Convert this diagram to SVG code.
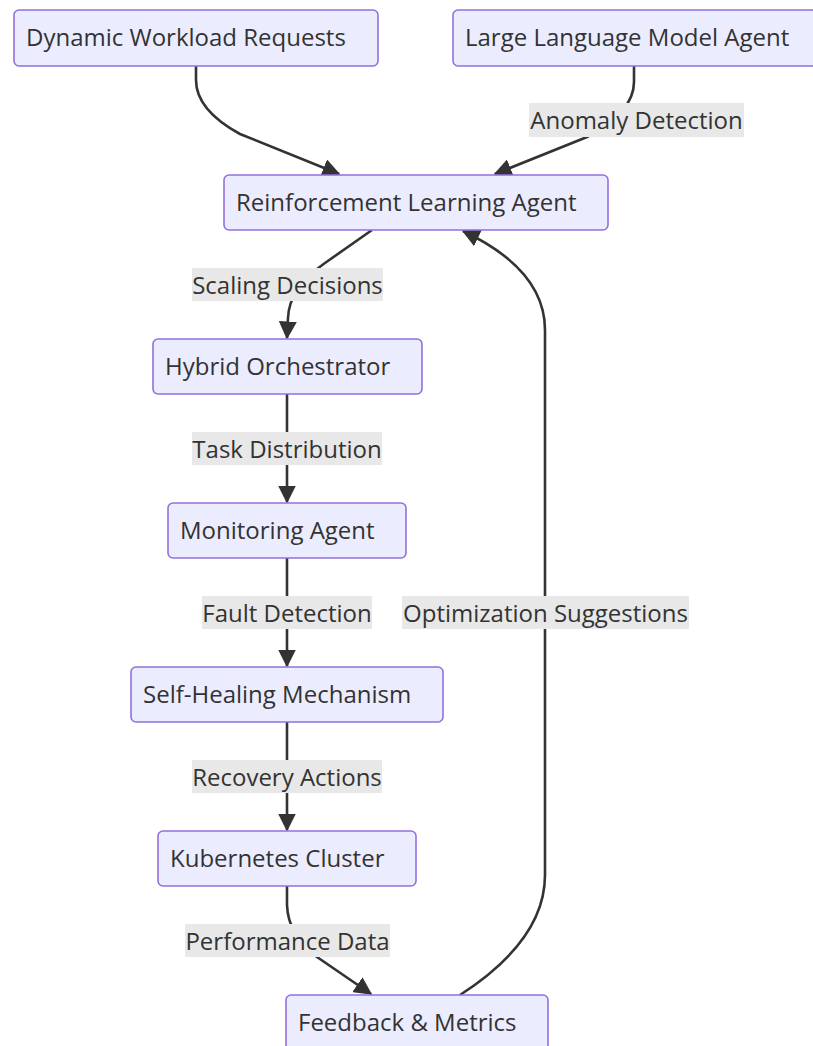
<svg xmlns="http://www.w3.org/2000/svg" width="813" height="1046" viewBox="0 0 813 1046">
<defs>
<style>
.node rect{fill:#ECECFF;stroke:#9370DB;stroke-width:1.6}
.node text{font-family:"Open Sans","DejaVu Sans",sans-serif;font-size:24px;fill:#333}
.edge{fill:none;stroke:#333;stroke-width:2.6}
.lbl rect{fill:#e8e8e8}
.lbl text{font-family:"Open Sans","DejaVu Sans",sans-serif;font-size:24px;fill:#333;text-anchor:middle}
</style>
<marker id="arr" viewBox="0 0 12 12" refX="11" refY="6" markerWidth="18" markerHeight="18" markerUnits="userSpaceOnUse" orient="auto">
<path d="M0,0 L12,6 L0,12 z" fill="#333"/>
</marker>
</defs>
<rect width="813" height="1046" fill="#fff"/>
<g id="connectors">
<path class="edge" d="M196,66 L196,80 Q196,110 240,134 L339,174" marker-end="url(#arr)"/>
<path class="edge" d="M634,66 L634,82 Q634,112 587,137 L495,174" marker-end="url(#arr)"/>
<path class="edge" d="M372,230 L325,263 Q289,288 288,318 L287,338" marker-end="url(#arr)"/>
<path class="edge" d="M287,394 L287,502" marker-end="url(#arr)"/>
<path class="edge" d="M287,558 L287,666" marker-end="url(#arr)"/>
<path class="edge" d="M287,722 L287,830" marker-end="url(#arr)"/>
<path class="edge" d="M287,886 L287,905 Q288,935 317,957 L371,994" marker-end="url(#arr)"/>
<path class="edge" d="M460,995 Q545,940 545,875 L545,330 Q545,270 463,231" marker-end="url(#arr)"/>
<g class="lbl">
<rect x="529" y="103" width="215" height="34"/><text x="636.5" y="129">Anomaly Detection</text>
<rect x="192" y="268" width="191" height="33"/><text x="287.5" y="294">Scaling Decisions</text>
<rect x="192" y="432" width="190" height="33"/><text x="287" y="458">Task Distribution</text>
<rect x="202" y="596" width="170" height="33"/><text x="287" y="622">Fault Detection</text>
<rect x="402" y="596" width="287" height="33"/><text x="545.5" y="622">Optimization Suggestions</text>
<rect x="192" y="760" width="190" height="33"/><text x="287" y="786">Recovery Actions</text>
<rect x="185" y="924" width="205" height="33"/><text x="287.5" y="950">Performance Data</text>
</g>
</g>
<g id="n1" class="node"><rect x="14" y="10" width="364" height="56" rx="5"/><text x="26" y="46">Dynamic Workload Requests</text></g>
<g id="n2" class="node"><rect x="453" y="10" width="364" height="56" rx="5"/><text x="465" y="46">Large Language Model Agent</text></g>
<g id="n3" class="node"><rect x="224" y="175" width="384" height="55" rx="5"/><text x="236" y="211">Reinforcement Learning Agent</text></g>
<g id="n4" class="node"><rect x="153" y="339" width="269" height="55" rx="5"/><text x="165" y="375">Hybrid Orchestrator</text></g>
<g id="n5" class="node"><rect x="168" y="503" width="238" height="55" rx="5"/><text x="180" y="539">Monitoring Agent</text></g>
<g id="n6" class="node"><rect x="131" y="667" width="312" height="55" rx="5"/><text x="143" y="703">Self-Healing Mechanism</text></g>
<g id="n7" class="node"><rect x="158" y="831" width="258" height="55" rx="5"/><text x="170" y="867">Kubernetes Cluster</text></g>
<g id="n8" class="node"><rect x="286" y="995" width="262" height="56" rx="5"/><text x="298" y="1031">Feedback &amp; Metrics</text></g>
</svg>
